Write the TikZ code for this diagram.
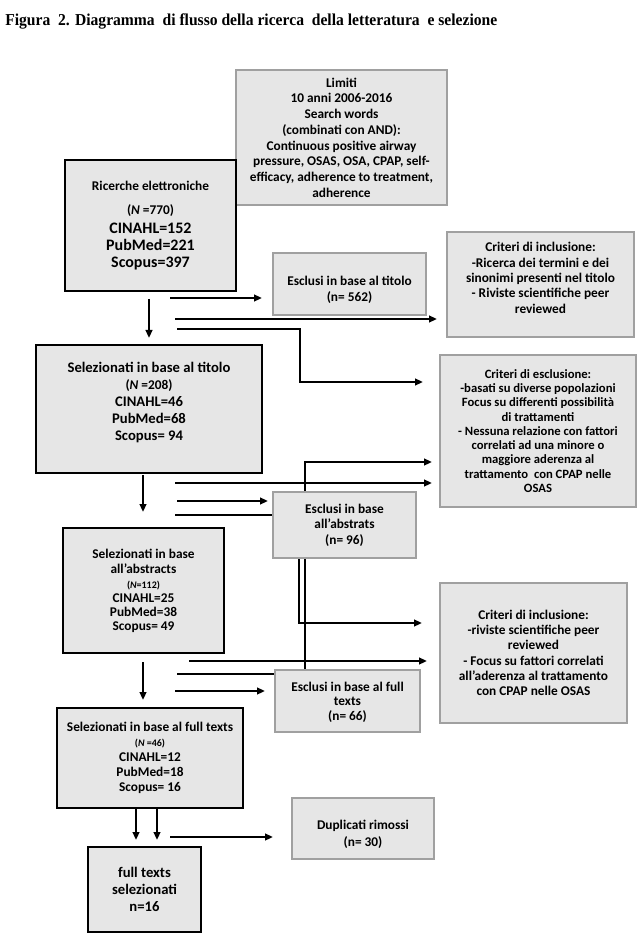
\documentclass[tikz,border=0pt]{standalone}
\usepackage{graphicx}
\usepackage{fontspec}
\setmainfont{Carlito}
\newfontfamily\titlefont{Liberation Serif}
\usetikzlibrary{arrows.meta,backgrounds}
\definecolor{boxfill}{RGB}{230,230,230}
\definecolor{boxgray}{RGB}{160,160,160}
\newcommand{\shiftlines}[2]{\raisebox{#1}[\height][\depth]{\begin{tabular}{@{}c@{}}#2\end{tabular}}}
\begin{document}
\begin{tikzpicture}[x=0.75pt,y=-0.75pt,
  box/.style={draw=boxgray, fill=boxfill, line width=1.1pt, align=center, inner sep=0pt},
  boxk/.style={box, draw=black},
  sz/.style 2 args={minimum width=#1*0.75pt, minimum height=#2*0.75pt},
  conn/.style={line width=1.5pt},
  arr/.style={conn, -{Triangle[length=6pt,width=5pt]}},
]
\useasboundingbox (0,0) rectangle (638,937);

\node[anchor=base west, inner sep=0pt] (title) at (5,26)
  {\titlefont\bfseries\fontsize{12.5}{14}\selectfont\resizebox{369pt}{\height}{Figura\ \ 2. Diagramma\ \ di flusso della ricerca\ \ della letteratura\ \ e selezione}};

% boxes
\node[box, sz={211}{135}, font=\bfseries\fontsize{10}{11.8}\selectfont] (lim) at (341.5,137.5)
  {Limiti\\10 anni 2006-2016\\Search words\\(combinati con AND):\\Continuous positive airway\\pressure, OSAS, OSA, CPAP, self-\\efficacy, adherence to treatment,\\adherence};

\node[boxk, sz={171}{131}, font=\bfseries\fontsize{12}{12.7}\selectfont] (ric) at (150.5,225.5)
  {{\fontsize{10}{12}\selectfont Ricerche elettroniche}\\[5pt]
   {\fontsize{10}{12}\selectfont (\textit{N} =770)}\\[1.5pt]
   CINAHL=152\\PubMed=221\\Scopus=397};

\node[box, sz={153}{62}, font=\bfseries\fontsize{10}{12}\selectfont] (esc1) at (349.5,284)
  {\shiftlines{-4.5pt}{Esclusi in base al titolo\\(n= 562)}};

\node[box, sz={187}{105}, font=\bfseries\fontsize{10}{11.5}\selectfont] (inc1) at (540.5,284.5)
  {\shiftlines{3.75pt}{Criteri di inclusione:\\-Ricerca dei termini e dei\\sinonimi presenti nel titolo\\- Riviste scientifiche peer\\reviewed}};

\node[boxk, sz={226}{128}, font=\bfseries\fontsize{11}{12.75}\selectfont] (sel1) at (149,409)
  {\shiftlines{4.5pt}{Selezionati in base al titolo\\{\fontsize{10}{12}\selectfont(\textit{N} =208)}\\CINAHL=46\\PubMed=68\\Scopus= 94}};

\node[box, sz={196}{152}, font=\bfseries\fontsize{9.5}{10.7}\selectfont] (exc) at (538,431)
  {Criteri di esclusione:\\-basati su diverse popolazioni\\Focus su differenti possibilità\\di trattamenti\\- Nessuna relazione con fattori\\correlati ad una minore o\\maggiore aderenza al\\trattamento\ \ con CPAP nelle\\OSAS};

\node[box, sz={143}{66}, font=\bfseries\fontsize{10}{11.6}\selectfont] (esc2) at (344.5,525)
  {Esclusi in base\\all’abstrats\\(n= 96)};

\node[boxk, sz={161}{125}, font=\bfseries\fontsize{10}{10.5}\selectfont] (sel2) at (143.5,590.5)
  {Selezionati in base\\[1pt]all’abstracts\\[0.5pt]{\fontsize{7.5}{9}\selectfont(\textit{N}=112)}\\CINAHL=25\\PubMed=38\\Scopus= 49};

\node[box, sz={187}{140}, font=\bfseries\fontsize{10}{11.5}\selectfont] (inc2) at (533.5,653)
  {Criteri di inclusione:\\-riviste scientifiche peer\\reviewed\\- Focus su fattori correlati\\all’aderenza al trattamento\\con CPAP nelle OSAS};

\node[box, sz={145}{62}, font=\bfseries\fontsize{10}{10.9}\selectfont] (esc3) at (347.5,701)
  {\shiftlines{-1.5pt}{Esclusi in base al full\\texts\\(n= 66)}};

\node[boxk, sz={186}{100}, font=\bfseries\fontsize{10}{11.3}\selectfont] (sel3) at (150,758)
  {Selezionati in base al full texts\\{\fontsize{7.5}{9}\selectfont(\textit{N} =46)}\\CINAHL=12\\PubMed=18\\Scopus= 16};

\node[box, sz={142}{61}, font=\bfseries\fontsize{10}{12.5}\selectfont] (dup) at (363,828.5)
  {\shiftlines{-4.5pt}{Duplicati rimossi\\(n= 30)}};

\node[boxk, sz={113}{85}, font=\bfseries\fontsize{11}{13}\selectfont] (fin) at (144.5,889.5)
  {full texts\\selezionati\\n=16};

% connector end points
\coordinate (a1s) at (170,298); \coordinate (a1e) at (262,298);
\coordinate (d1s) at (149,299); \coordinate (d1e) at (149,338);
\coordinate (a2s) at (175,319); \coordinate (a2e) at (437,319);
\coordinate (a3s) at (177,329); \coordinate (a3m) at (300,329);
\coordinate (a3n) at (300,382); \coordinate (a3e) at (423,382);
\coordinate (d2s) at (143,475); \coordinate (d2e) at (143,512);
\coordinate (a4s) at (175,483); \coordinate (a4e) at (432,483);
\coordinate (a5s) at (177,501); \coordinate (a5e) at (268,501);
\coordinate (b1s) at (175,515); \coordinate (b1m) at (299,515);
\coordinate (b1n) at (299,623); \coordinate (b1e) at (422,623);
\coordinate (a6s) at (189,661); \coordinate (a6e) at (427,661);
\coordinate (b2s) at (177,674); \coordinate (b2m) at (305,674);
\coordinate (b2n) at (305,462); \coordinate (b2e) at (432,462);
\coordinate (a7s) at (175,691); \coordinate (a7e) at (265,691);
\coordinate (d3s) at (143,662); \coordinate (d3e) at (143,700);
\coordinate (d4s) at (136,808); \coordinate (d4e) at (136,840);
\coordinate (d5s) at (157,808); \coordinate (d5e) at (157,840);
\coordinate (a8s) at (170,837); \coordinate (a8e) at (273,837);

\begin{scope}[on background layer]
\draw[arr] (a1s) -- (a1e);
\draw[arr] (d1s) -- (d1e);
\draw[arr] (a2s) -- (a2e);
\draw[arr] (a3s) -- (a3m) -- (a3n) -- (a3e);
\draw[arr] (d2s) -- (d2e);
\draw[arr] (a4s) -- (a4e);
\draw[arr] (a5s) -- (a5e);
\draw[arr] (b1s) -- (b1m) -- (b1n) -- (b1e);
\draw[arr] (a6s) -- (a6e);
\draw[arr] (b2s) -- (b2m) -- (b2n) -- (b2e);
\draw[arr] (a7s) -- (a7e);
\draw[arr] (d3s) -- (d3e);
\draw[arr] (d4s) -- (d4e);
\draw[arr] (d5s) -- (d5e);
\draw[arr] (a8s) -- (a8e);
\end{scope}
\end{tikzpicture}
\end{document}
